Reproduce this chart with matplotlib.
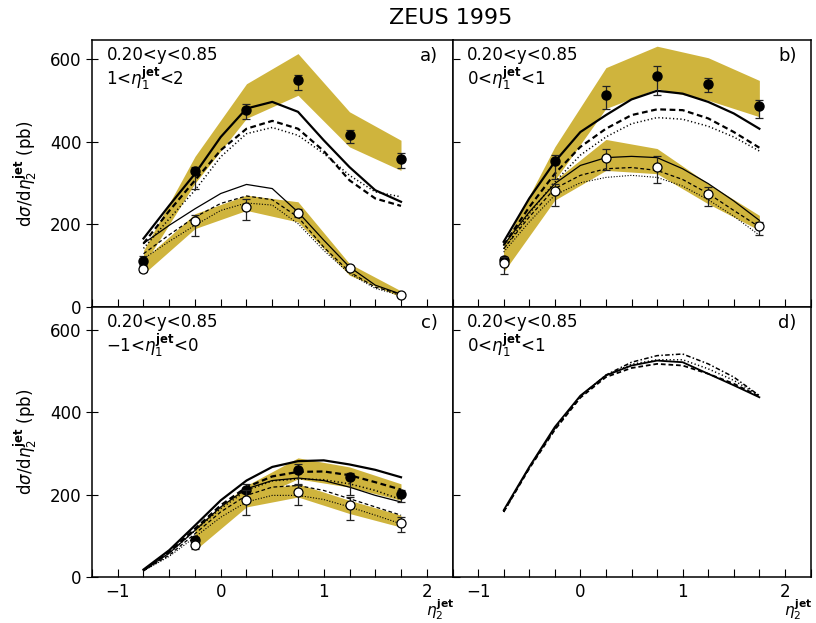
import matplotlib
matplotlib.use("Agg")
import matplotlib.pyplot as plt
from matplotlib.ticker import MultipleLocator, NullFormatter
import matplotlib.transforms as mtransforms

plt.rcParams['font.family'] = ['DejaVu Sans']
plt.rcParams['mathtext.fontset'] = 'dejavusans'

# bin centres of the measurements and the x grid on which the curves were read
x_pts = [-0.75, -0.25, 0.25, 0.75, 1.25, 1.75]
x_curve = [-0.75, -0.5, -0.25, 0.0, 0.25, 0.5, 0.75, 1.0, 1.25, 1.5, 1.75]

# ---- panel a)  1 < eta1 < 2
a_full = [112, 329, 478, 549, 416, 358]
a_full_up = [11, 10, 15, 14, 14, 16]
a_full_dn = [11, 42, 22, 23, 19, 21]
a_full_band_lo = [101, 300, 457, 513, 388, 331]
a_full_band_hi = [137, 365, 541, 614, 473, 404]
a_open = [92, 208, 242, 228, 94, 29]
a_open_up = [8, 16, 20, 10, 5, 3]
a_open_dn = [8, 35, 31, 10, 5, 3]
a_open_band_lo = [80, 190, 234, 206, 77, 24]
a_open_band_hi = [115, 226, 271, 255, 105, 39]
a_thick_solid = [166, 246, 323, 412, 481, 497, 473, 404, 339, 283, 255]
a_thick_dash = [154, 233, 307, 380, 432, 451, 432, 378, 307, 263, 245]
a_thick_dot = [142, 214, 283, 364, 420, 435, 416, 372, 319, 279, 267]
a_thin_solid = [154, 198, 238, 275, 297, 287, 230, 162, 97, 53, 31]
a_thin_dash = [129, 175, 218, 251, 269, 260, 218, 145, 85, 48, 31]
a_thin_dot = [117, 159, 198, 234, 252, 247, 202, 137, 81, 45, 28]

# ---- panel b)  0 < eta1 < 1
b_full = [113, 354, 513, 559, 541, 487]
b_full_up = [8, 14, 22, 24, 15, 14]
b_full_dn = [8, 43, 32, 46, 20, 28]
b_full_band_lo = [100, 307, 481, 529, 501, 461]
b_full_band_hi = [150, 388, 580, 632, 604, 549]
b_open = [107, 281, 360, 339, 273, 196]
b_open_up = [15, 18, 22, 28, 18, 10]
b_open_dn = [28, 37, 28, 39, 28, 22]
b_open_band_lo = [85, 259, 331, 323, 250, 186]
b_open_band_hi = [135, 307, 406, 384, 299, 222]
b_thick_solid = [158, 263, 352, 424, 465, 503, 524, 517, 497, 469, 432]
b_thick_dash = [150, 242, 323, 388, 432, 465, 479, 477, 457, 424, 386]
b_thick_dot = [141, 226, 303, 368, 412, 444, 459, 455, 438, 412, 378]
b_thin_solid = [150, 230, 299, 343, 362, 365, 362, 335, 299, 257, 210]
b_thin_dash = [141, 218, 287, 319, 335, 338, 331, 309, 275, 234, 194]
b_thin_dot = [133, 206, 271, 301, 314, 319, 314, 293, 260, 220, 174]

# ---- panel c)  -1 < eta1 < 0  (no point in the first bin)
c_full = [89, 212, 260, 242, 202]
c_full_up = [8, 13, 13, 11, 8]
c_full_dn = [15, 20, 38, 42, 20]
c_full_band_lo = [81, 182, 238, 218, 186]
c_full_band_hi = [121, 222, 289, 267, 226]
c_open = [78, 186, 205, 174, 131]
c_open_up = [10, 24, 21, 20, 15]
c_open_dn = [10, 36, 31, 35, 22]
c_open_band_lo = [65, 170, 194, 154, 121]
c_open_band_hi = [113, 206, 226, 186, 150]
c_thick_solid = [18, 65, 125, 186, 234, 267, 281, 283, 273, 260, 242]
c_thick_dash = [16, 61, 117, 174, 218, 244, 255, 256, 247, 230, 212]
c_thick_dot = [16, 58, 113, 166, 210, 233, 238, 236, 226, 210, 188]
c_thin_solid = [16, 58, 113, 170, 214, 234, 240, 234, 218, 198, 182]
c_thin_dash = [15, 53, 105, 158, 198, 218, 222, 210, 190, 170, 150]
c_thin_dot = [15, 50, 97, 145, 182, 198, 198, 188, 170, 150, 129]

# ---- panel d)  0 < eta1 < 1, curves only
d_solid = [162, 267, 364, 440, 489, 513, 525, 521, 493, 465, 436]
d_dash = [158, 263, 357, 435, 485, 507, 517, 513, 493, 469, 438]
d_dot = [158, 265, 360, 438, 489, 516, 527, 527, 505, 477, 440]
d_dashdot = [158, 265, 360, 438, 490, 521, 537, 541, 517, 485, 440]

band_col = '#CFB43D'
DASH = (0, (2.6, 1.6))
DOT = (0, (0.8, 1.6))

fig = plt.figure(figsize=(8.16, 6.23), dpi=100)
W, H = 816, 623


def add_ax(x0, y0, x1, y1):
    return fig.add_axes([x0 / W, 1 - y1 / H, (x1 - x0) / W, (y1 - y0) / H])


axA = add_ax(92, 40, 452.5, 307)
axB = add_ax(452.5, 40, 810.5, 307)
axC = add_ax(92, 307, 452.5, 577)
axD = add_ax(452.5, 307, 810.5, 577)


def style(ax, left, bottom, ytop):
    ax.set_xlim(-1.25, 2.25)
    ax.set_ylim(0, ytop)
    ax.xaxis.set_major_locator(MultipleLocator(1))
    ax.xaxis.set_minor_locator(MultipleLocator(0.25))
    ax.set_yticks([0, 200, 400, 600])
    for s in ax.spines.values():
        s.set_linewidth(1.1)
    ax.tick_params(axis='x', which='both', direction='in', length=6, width=0.8,
                   top=False, labelbottom=bottom, labelsize=12, pad=4)
    if not bottom:
        ax.xaxis.set_major_formatter(NullFormatter())
    if left:
        ax.tick_params(axis='y', direction='inout', length=9, width=0.8,
                       right=False, labelsize=12, pad=3)
        ax.set_ylabel(r'd$\sigma$/d$\eta_2^{\mathbf{jet}}$ (pb)', fontsize=12, labelpad=7)
    else:
        ax.tick_params(axis='y', direction='in', length=5, width=0.8,
                       right=False, labelleft=False)
        ax.yaxis.set_major_formatter(NullFormatter())
    if bottom:
        tr = mtransforms.blended_transform_factory(ax.transData, ax.transAxes)
        ax.text(2.13, -0.122, r'$\eta_2^{\mathbf{jet}}$', transform=tr,
                fontsize=11, ha='center', va='center')


def data_set(ax, x, yf, fup, fdn, flo, fhi, yo, oup, odn, olo, ohi):
    ax.fill_between(x, flo, fhi, color=band_col, lw=0, zorder=1)
    ax.fill_between(x, olo, ohi, color=band_col, lw=0, zorder=1)
    ax.errorbar(x, yf, yerr=[fdn, fup], fmt='o', ms=6.5, mfc='black', mec='black',
                ecolor='#222222', elinewidth=0.9, capsize=3, capthick=0.9, zorder=5)
    ax.errorbar(x, yo, yerr=[odn, oup], fmt='o', ms=6.5, mfc='white', mec='black',
                mew=0.9, ecolor='#222222', elinewidth=0.9, capsize=3, capthick=0.9,
                zorder=6)


def curves(ax, ts, td, tdot, ns, nd, ndot):
    ax.plot(x_curve, ts, color='black', lw=1.6, zorder=3)
    ax.plot(x_curve, td, color='black', lw=1.6, ls=DASH, zorder=3)
    ax.plot(x_curve, tdot, color='black', lw=1.1, ls=DOT, zorder=3)
    ax.plot(x_curve, ns, color='black', lw=0.9, zorder=3)
    ax.plot(x_curve, nd, color='black', lw=0.9, ls=(0, (3, 2)), zorder=3)
    ax.plot(x_curve, ndot, color='black', lw=0.8, ls=(0, (1, 1.5)), zorder=3)


# panel a
data_set(axA, x_pts, a_full, a_full_up, a_full_dn, a_full_band_lo, a_full_band_hi,
         a_open, a_open_up, a_open_dn, a_open_band_lo, a_open_band_hi)
curves(axA, a_thick_solid, a_thick_dash, a_thick_dot, a_thin_solid, a_thin_dash, a_thin_dot)
style(axA, True, False, 647)

# panel b
data_set(axB, x_pts, b_full, b_full_up, b_full_dn, b_full_band_lo, b_full_band_hi,
         b_open, b_open_up, b_open_dn, b_open_band_lo, b_open_band_hi)
curves(axB, b_thick_solid, b_thick_dash, b_thick_dot, b_thin_solid, b_thin_dash, b_thin_dot)
style(axB, False, False, 647)

# panel c
data_set(axC, x_pts[1:], c_full, c_full_up, c_full_dn, c_full_band_lo, c_full_band_hi,
         c_open, c_open_up, c_open_dn, c_open_band_lo, c_open_band_hi)
curves(axC, c_thick_solid, c_thick_dash, c_thick_dot, c_thin_solid, c_thin_dash, c_thin_dot)
style(axC, True, True, 655)

# panel d
axD.plot(x_curve, d_solid, color='black', lw=1.3, zorder=3)
axD.plot(x_curve, d_dash, color='black', lw=1.3, ls=DASH, zorder=3)
axD.plot(x_curve, d_dot, color='black', lw=1.1, ls=DOT, zorder=3)
axD.plot(x_curve, d_dashdot, color='black', lw=1.1, ls=(0, (3, 1.5, 1, 1.5)), zorder=3)
style(axD, False, True, 655)

# panel captions
captions = [(axA, '1<$\\eta_1^{\\mathbf{jet}}$<2', 'a)'),
            (axB, '0<$\\eta_1^{\\mathbf{jet}}$<1', 'b)'),
            (axC, '$-$1<$\\eta_1^{\\mathbf{jet}}$<0', 'c)'),
            (axD, '0<$\\eta_1^{\\mathbf{jet}}$<1', 'd)')]
for ax, line2, tag in captions:
    ax.text(0.04, 0.945, '0.20<y<0.85', transform=ax.transAxes, fontsize=12,
            ha='left', va='center')
    ax.text(0.04, 0.855, line2, transform=ax.transAxes, fontsize=12,
            ha='left', va='center')
    ax.text(0.935, 0.94, tag, transform=ax.transAxes, fontsize=13,
            ha='center', va='center')

fig.text(451 / W, 1 - 18 / H, 'ZEUS 1995', fontsize=16, ha='center', va='center')

fig.savefig('out.png', dpi=100)
